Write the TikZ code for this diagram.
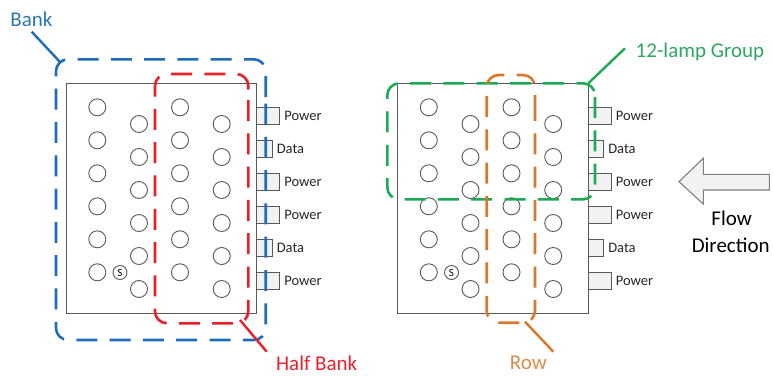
\documentclass[tikz,border=0pt]{standalone}
\usepackage{fontspec}
\setmainfont{Carlito}
\definecolor{bankblue}{HTML}{1F6DBA}
\definecolor{banktext}{HTML}{2E75B6}
\definecolor{halfred}{HTML}{E8202A}
\definecolor{grpgreen}{HTML}{1DAA55}
\definecolor{grptext}{HTML}{2EA860}
\definecolor{roworange}{HTML}{D9782C}
\definecolor{rowtext}{HTML}{DB8A4C}
\definecolor{boxgray}{HTML}{595959}
\definecolor{confill}{HTML}{F2F2F2}
\begin{document}
\begin{tikzpicture}[x=1pt,y=-1pt,
  panel/.style={draw=boxgray,line width=1.1pt,fill=white},
  lamp/.style={circle,draw=boxgray,line width=0.9pt,minimum size=17pt,inner sep=0pt},
  slamp/.style={circle,draw=boxgray,line width=0.9pt,minimum size=14pt,inner sep=0pt,font=\fontsize{11}{11}\selectfont},
  powerbox/.style={draw=boxgray,line width=0.9pt,fill=confill,minimum width=23.3pt,minimum height=16.7pt,inner sep=0pt,anchor=west},
  databox/.style={draw=boxgray,line width=0.9pt,fill=confill,minimum width=15.7pt,minimum height=16.7pt,inner sep=0pt,anchor=west},
  contxt/.style={font=\fontsize{14.5}{15}\selectfont,anchor=west,inner sep=0pt,text=black!85},
  grp/.style={line width=2.6pt,dash pattern=on 21pt off 12.3pt,rounded corners=12pt},
  leader/.style={line width=2.4pt},
  biglabel/.style={font=\fontsize{21}{25}\selectfont,inner sep=0pt}
]
\useasboundingbox (0,0) rectangle (773,375);

% ---------- panels ----------
\foreach \p/\dx in {L/0,R/331.5}{
  \node[panel,minimum width=190.3pt,minimum height=230.6pt,inner sep=0pt,anchor=north west] (box\p) at (65.7+\dx,82.7) {};
  % connectors
  \foreach \k/\kind/\txt in {0/powerbox/Power,1/databox/Data,2/powerbox/Power,3/powerbox/Power,4/databox/Data,5/powerbox/Power}{
    \node[\kind] (con\p\k) at (256+\dx,115.7+33*\k) {};
    \node[contxt] (lab\p\k) at ([xshift=4pt]con\p\k.east) {\txt};
  }
  % lamps
  \foreach \cx/\cy/\c in {97.3/107.3/a,139/124/b,180/107.3/c,221.7/124/d}{
    \foreach \r in {0,...,5}{
      \node[lamp] (lamp\p\c\r) at (\cx+\dx,\cy+33*\r) {};
    }
  }
  \node[slamp] (s\p) at (120+\dx,272.5) {S};
}

% ---------- Bank ----------
\draw[grp,draw=bankblue] (265.7,103.5) -- (265.7,340) -- (56,340) -- (56,59.3) -- (265.7,59.3) -- (265.7,103.5);
\node[biglabel,text=banktext] (bank) at (31.5,19) {Bank};
\coordinate (bankfrom) at (31.7,31.7);
\coordinate (bankto) at (60,62);
\draw[leader,draw=bankblue] (bankfrom) -- (bankto);

% ---------- Half Bank ----------
\draw[grp,draw=halfred] (248.3,100) -- (248.3,323.3) -- (155,323.3) -- (155,74) -- (248.3,74) -- (248.3,100);
\node[biglabel,text=halfred] (half) at (316.7,363.3) {Half Bank};
\coordinate (halffrom) at (240,320);
\coordinate (halfto) at (266.7,351.7);
\draw[leader,draw=halfred] (halffrom) -- (halfto);

% ---------- 12-lamp Group ----------
\draw[grp,draw=grpgreen] (595,97) -- (595,199.3) -- (387.3,199.3) -- (387.3,83.3) -- (595,83.3) -- (595,97);
\node[biglabel,text=grptext] (group) at (700,52.3) {12-lamp Group};
\coordinate (grpfrom) at (588.3,83.3);
\coordinate (grpto) at (625,48.3);
\draw[leader,draw=grpgreen] (grpfrom) -- (grpto);

% ---------- Row ----------
\draw[grp,draw=roworange] (535,100) -- (535,322.7) -- (486.7,322.7) -- (486.7,75) -- (535,75) -- (535,100);
\node[biglabel,text=rowtext] (row) at (528.3,363.3) {Row};
\coordinate (rowfrom) at (525,321.7);
\coordinate (rowto) at (553.3,351.7);
\draw[leader,draw=roworange] (rowfrom) -- (rowto);

% ---------- Flow direction ----------
\draw[draw=black!50,line width=1.1pt,fill=confill,line join=miter]
  (679,181.7) -- (703.3,158.3) -- (703.3,174.3) -- (769.3,174.3) -- (769.3,190) -- (703.3,190) -- (703.3,204) -- cycle;
\node[biglabel,text=black] (flow) at (731.7,218.3) {Flow};
\node[biglabel,text=black] (dir) at (730.7,245) {Direction};
\end{tikzpicture}
\end{document}
